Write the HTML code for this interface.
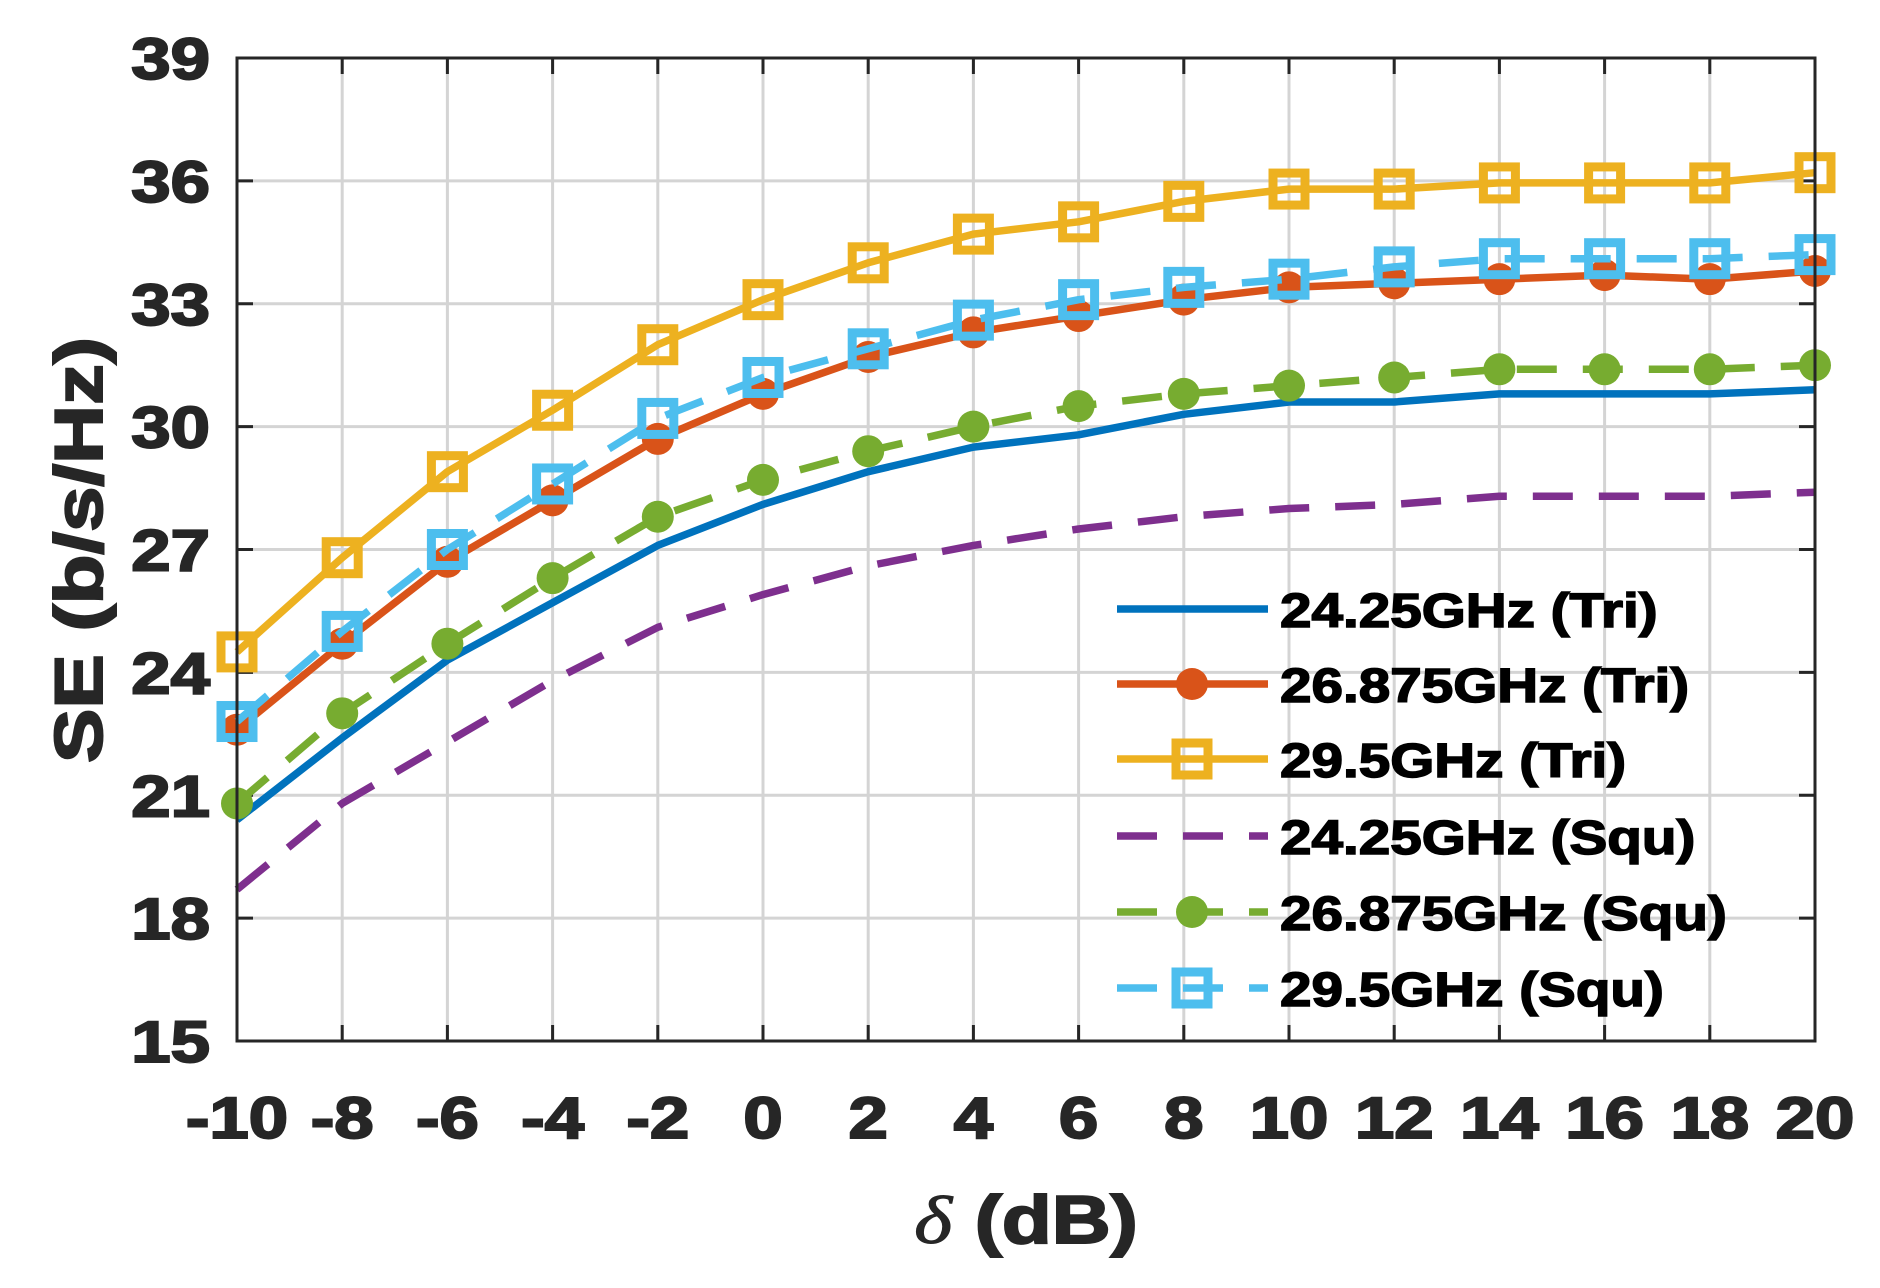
<!DOCTYPE html>
<html><head><meta charset="utf-8"><style>
html,body{margin:0;padding:0;background:#fff;}
svg{display:block;font-family:"Liberation Sans",Arial,sans-serif;font-weight:bold;}
</style></head><body>
<svg id="s" width="1880" height="1288" viewBox="0 0 1880 1288" xmlns="http://www.w3.org/2000/svg"></svg>
<script>
const S=document.getElementById('s');
const L=237,R=1815,T=58,B=1041;
const X=v=>L+(v+10)*(R-L)/30, Y=v=>B-(v-15)*(B-T)/24;
function tx(x,y,t,fs,anchor,sx,fill,sw){return `<text transform="translate(${x},${y}) scale(${sx},1)" font-size="${fs}" text-anchor="${anchor}" fill="${fill}" stroke="${fill}" stroke-width="${sw}">${t}</text>`;}
let h='';
for(let v=-10;v<=20;v+=2){const x=X(v);h+=`<line x1="${x}" y1="${T}" x2="${x}" y2="${B}" stroke="#d4d4d4" stroke-width="3"/>`;}
for(let v=15;v<=39;v+=3){const y=Y(v);h+=`<line x1="${L}" y1="${y}" x2="${R}" y2="${y}" stroke="#d4d4d4" stroke-width="3"/>`;}
for(let v=-10;v<=20;v+=2){const x=X(v);h+=`<line x1="${x}" y1="${B}" x2="${x}" y2="${B-16}" stroke="#262626" stroke-width="3"/><line x1="${x}" y1="${T}" x2="${x}" y2="${T+16}" stroke="#262626" stroke-width="3"/>`+tx(x,1138,v,58,'middle',1.22,'#262626',2);}
for(let v=15;v<=39;v+=3){const y=Y(v);h+=`<line x1="${L}" y1="${y}" x2="${L+16}" y2="${y}" stroke="#262626" stroke-width="3"/><line x1="${R}" y1="${y}" x2="${R-16}" y2="${y}" stroke="#262626" stroke-width="3"/>`+tx(210,y+21,v,58,'end',1.22,'#262626',2);}
const xs=[];for(let v=-10;v<=20;v+=2)xs.push(v);
const ser=[
 {c:'#0072BD',d:[20.4,22.4,24.3,25.7,27.1,28.1,28.9,29.5,29.8,30.3,30.6,30.6,30.8,30.8,30.8,30.9],da:'',m:''},
 {c:'#D95319',d:[22.6,24.7,26.7,28.2,29.7,30.8,31.7,32.3,32.7,33.1,33.4,33.5,33.6,33.7,33.6,33.8],da:'',m:'o'},
 {c:'#EDB120',d:[24.5,26.8,28.9,30.4,32.0,33.1,34.0,34.7,35.0,35.5,35.8,35.8,35.95,35.95,35.95,36.2],da:'',m:'s'},
 {c:'#7E2F8E',d:[18.7,20.8,22.3,23.8,25.1,25.9,26.6,27.1,27.5,27.8,28.0,28.1,28.3,28.3,28.3,28.4],da:'40 26',m:''},
 {c:'#77AC30',d:[20.8,23.0,24.7,26.3,27.8,28.7,29.4,30.0,30.5,30.8,31.0,31.2,31.4,31.4,31.4,31.5],da:'40 26',m:'o'},
 {c:'#4DBEEE',d:[22.8,25.0,27.0,28.6,30.2,31.2,31.9,32.6,33.1,33.4,33.6,33.9,34.1,34.1,34.1,34.2],da:'40 26',m:'s'}
];
function mk(m,c,x,y){if(m==='o')return `<circle cx="${x}" cy="${y}" r="16" fill="${c}"/>`;if(m==='s')return `<rect x="${x-16}" y="${y-16}" width="32" height="32" fill="none" stroke="${c}" stroke-width="9"/>`;return '';}
ser.forEach(s=>{
 const p=s.d.map((v,i)=>X(xs[i]).toFixed(1)+','+Y(v).toFixed(1)).join(' ');
 h+=`<polyline points="${p}" fill="none" stroke="${s.c}" stroke-width="7.5" stroke-linejoin="round" ${s.da?`stroke-dasharray="${s.da}"`:''}/>`;
 s.d.forEach((v,i)=>h+=mk(s.m,s.c,X(xs[i]),Y(v)));
});
h+=`<rect x="${L}" y="${T}" width="${R-L}" height="${B-T}" fill="none" stroke="#262626" stroke-width="3"/>`;
const labs=['24.25GHz (Tri)','26.875GHz (Tri)','29.5GHz (Tri)','24.25GHz (Squ)','26.875GHz (Squ)','29.5GHz (Squ)'];
const ly=[609,684,759,836,912,988];
ser.forEach((s,i)=>{const y=ly[i];
 h+=`<line x1="1117" y1="${y}" x2="1268" y2="${y}" stroke="${s.c}" stroke-width="7.5" ${s.da?`stroke-dasharray="${s.da}"`:''}/>`;
 h+=mk(s.m,s.c,1192,y);
 h+=tx(1280,y+18,labs[i],48,'start',1.18,'#000',1.5);});
h+=`<text transform="translate(102,550) rotate(-90) scale(1.2,1)" font-size="68" text-anchor="middle" fill="#262626" stroke="#262626" stroke-width="2">SE (b/s/Hz)</text>`;
h+=`<text transform="translate(1026,1243) scale(1.2,1)" font-size="68" text-anchor="middle" fill="#262626" stroke="#262626" stroke-width="2"><tspan font-style="italic" font-weight="normal" font-family="Liberation Serif,serif" stroke-width="1">δ</tspan> (dB)</text>`;
S.innerHTML=h;
</script>
</body></html>
